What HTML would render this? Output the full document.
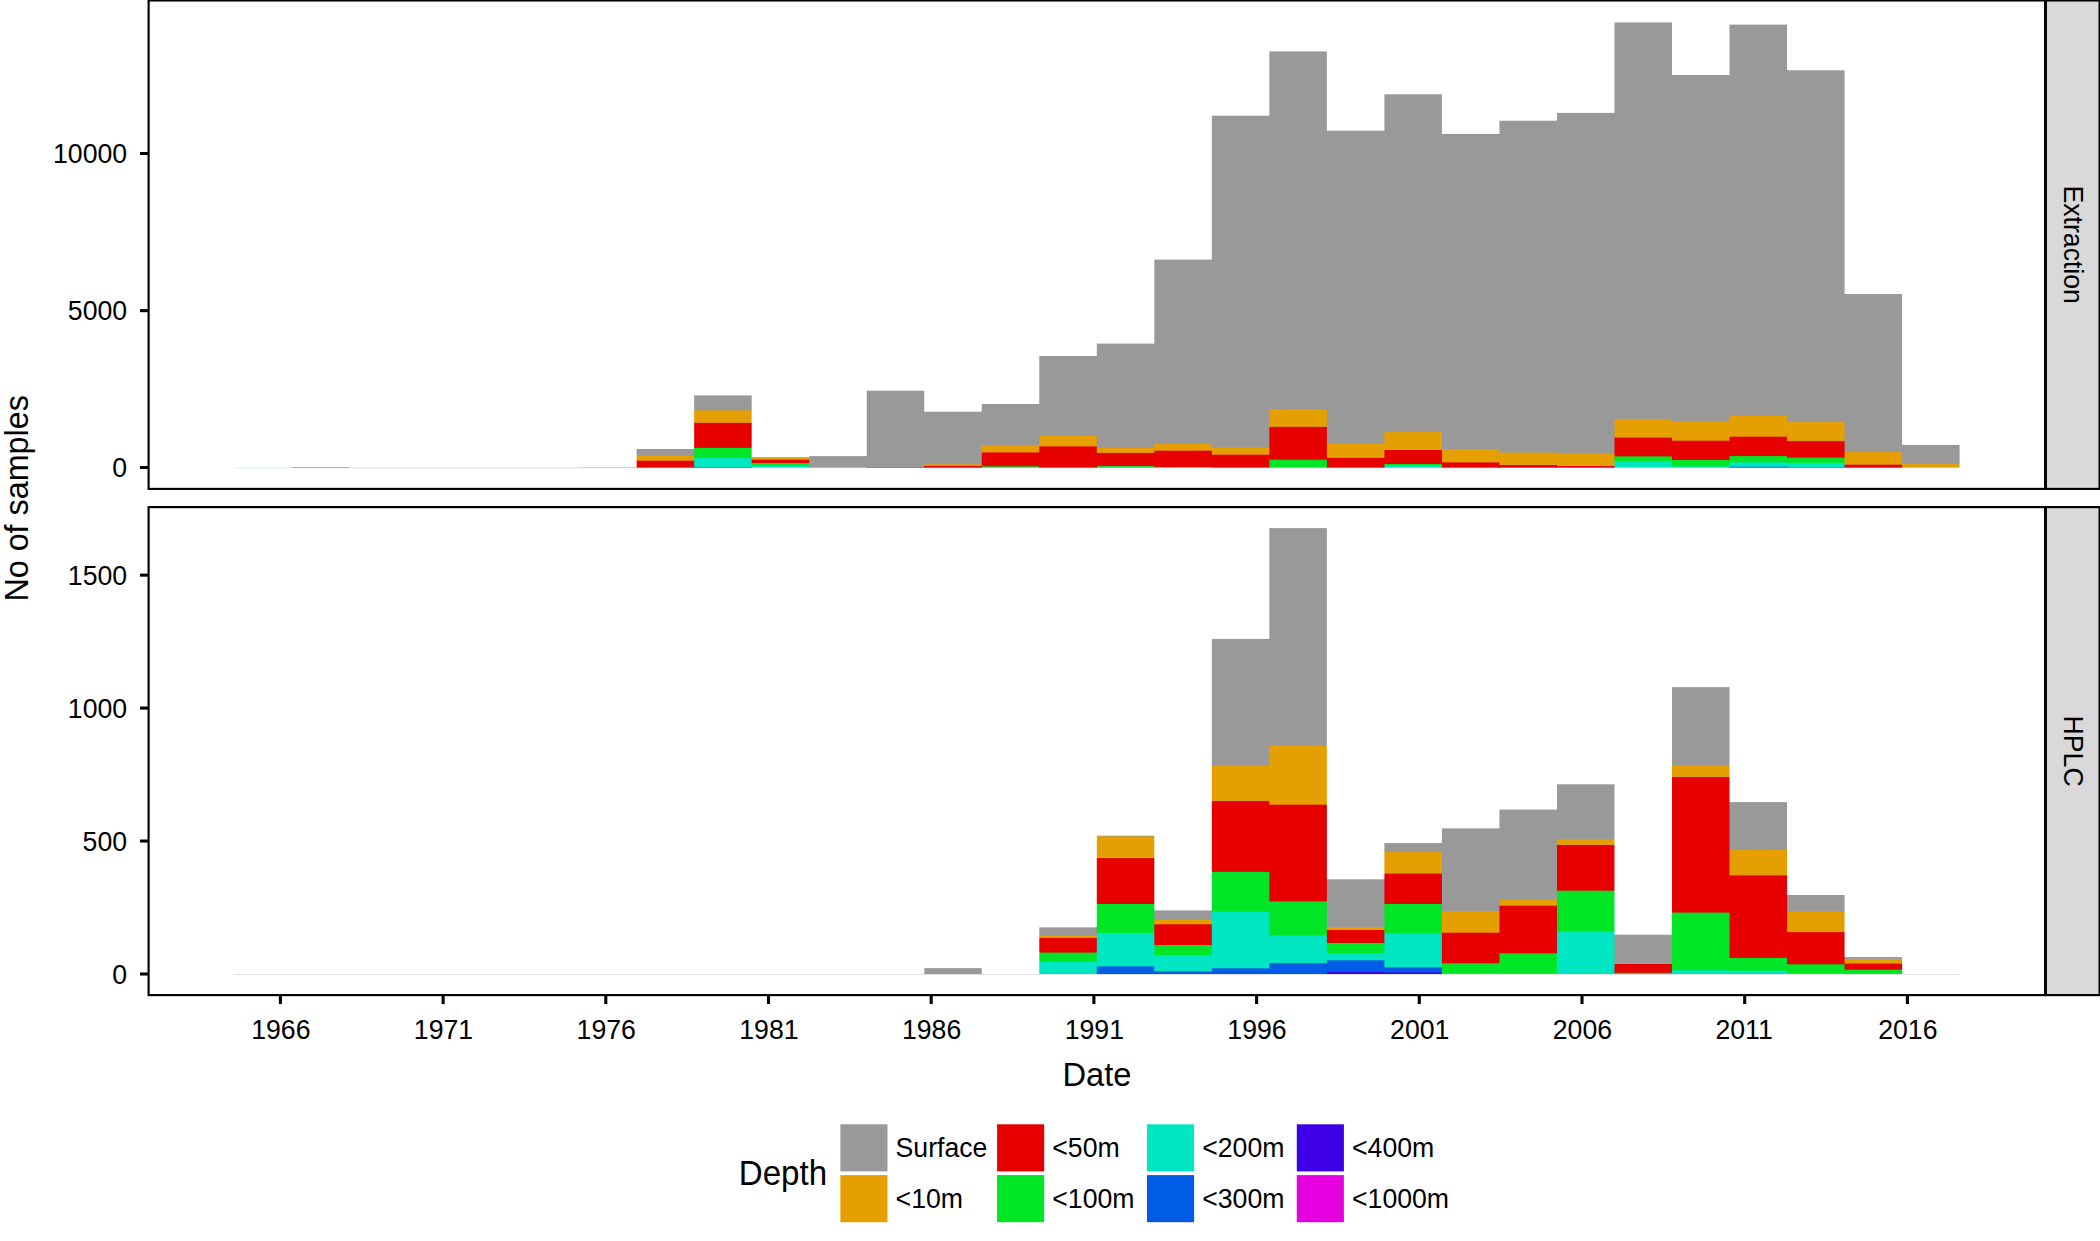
<!DOCTYPE html>
<html lang="en"><head><meta charset="utf-8"><title>No of samples by date and depth</title>
<style>html,body{margin:0;padding:0;background:#fff}body{width:2100px;height:1241px;overflow:hidden}svg{display:block}text{font-family:"Liberation Sans",Arial,Helvetica,sans-serif;fill:#000}.a{font-size:26.67px}.t{font-size:33.33px}</style></head><body>
<svg width="2100" height="1241" viewBox="0 0 2100 1241">
<rect x="0" y="0" width="2100" height="1241" fill="#fff"/>
<rect x="234.00" y="467.65" width="57.52" height="0.60" fill="#7fd8c8" opacity="0.50"/>
<rect x="291.52" y="467.20" width="57.52" height="0.80" fill="#6b8e23" opacity="0.75"/>
<rect x="349.04" y="467.65" width="230.08" height="0.60" fill="#999999" opacity="0.55"/>
<rect x="579.12" y="467.50" width="57.52" height="0.60" fill="#999999" opacity="0.80"/>
<g>
<linearGradient id="g1" gradientUnits="userSpaceOnUse" x1="0" y1="449.00" x2="0" y2="467.70"><stop offset="0.00000" stop-color="#999999"/><stop offset="0.33155" stop-color="#999999"/><stop offset="0.38503" stop-color="#E69F00"/><stop offset="0.59893" stop-color="#E69F00"/><stop offset="0.65241" stop-color="#E60000"/><stop offset="1.00000" stop-color="#E60000"/></linearGradient>
<rect x="636.64" y="449.00" width="57.52" height="18.70" fill="url(#g1)"/>
<rect x="694" y="449.00" width="1" height="18.70" fill="url(#g1)"/>
<linearGradient id="g2" gradientUnits="userSpaceOnUse" x1="0" y1="395.40" x2="0" y2="467.70"><stop offset="0.00000" stop-color="#999999"/><stop offset="0.20055" stop-color="#999999"/><stop offset="0.21438" stop-color="#E69F00"/><stop offset="0.37344" stop-color="#E69F00"/><stop offset="0.38728" stop-color="#E60000"/><stop offset="0.71923" stop-color="#E60000"/><stop offset="0.73306" stop-color="#00E626"/><stop offset="0.85754" stop-color="#00E626"/><stop offset="0.87137" stop-color="#00E6C3"/><stop offset="0.98340" stop-color="#00E6C3"/><stop offset="0.99723" stop-color="#005CE6"/><stop offset="1.00000" stop-color="#005CE6"/></linearGradient>
<rect x="694.16" y="395.40" width="57.52" height="72.30" fill="url(#g2)"/>
<rect x="751" y="457.20" width="1" height="10.50" fill="url(#g2)"/>
<linearGradient id="g3" gradientUnits="userSpaceOnUse" x1="0" y1="457.20" x2="0" y2="467.70"><stop offset="0.00000" stop-color="#999999"/><stop offset="0.02857" stop-color="#999999"/><stop offset="0.12381" stop-color="#E69F00"/><stop offset="0.19048" stop-color="#E69F00"/><stop offset="0.28571" stop-color="#E60000"/><stop offset="0.50476" stop-color="#E60000"/><stop offset="0.60000" stop-color="#00E626"/><stop offset="0.76190" stop-color="#00E626"/><stop offset="0.85714" stop-color="#00E6C3"/><stop offset="1.00000" stop-color="#00E6C3"/></linearGradient>
<rect x="751.68" y="457.20" width="57.52" height="10.50" fill="url(#g3)"/>
<rect x="809" y="457.20" width="1" height="10.50" fill="url(#g3)"/>
<rect x="809.20" y="456.10" width="57.52" height="11.60" fill="#999999"/>
<rect x="866" y="456.10" width="1" height="11.60" fill="#999999"/>
<linearGradient id="g5" gradientUnits="userSpaceOnUse" x1="0" y1="390.70" x2="0" y2="467.70"><stop offset="0.00000" stop-color="#999999"/><stop offset="0.98701" stop-color="#999999"/><stop offset="1.00000" stop-color="#E60000"/><stop offset="1.00000" stop-color="#E60000"/></linearGradient>
<rect x="866.72" y="390.70" width="57.52" height="77.00" fill="url(#g5)"/>
<rect x="924" y="411.70" width="1" height="56.00" fill="url(#g5)"/>
<linearGradient id="g6" gradientUnits="userSpaceOnUse" x1="0" y1="411.70" x2="0" y2="467.70"><stop offset="0.00000" stop-color="#999999"/><stop offset="0.93036" stop-color="#999999"/><stop offset="0.94821" stop-color="#E69F00"/><stop offset="0.95893" stop-color="#E69F00"/><stop offset="0.97679" stop-color="#E60000"/><stop offset="1.00000" stop-color="#E60000"/></linearGradient>
<rect x="924.24" y="411.70" width="57.52" height="56.00" fill="url(#g6)"/>
<rect x="981" y="411.70" width="1" height="56.00" fill="url(#g6)"/>
<linearGradient id="g7" gradientUnits="userSpaceOnUse" x1="0" y1="404.00" x2="0" y2="467.70"><stop offset="0.00000" stop-color="#999999"/><stop offset="0.64207" stop-color="#999999"/><stop offset="0.65777" stop-color="#E69F00"/><stop offset="0.75196" stop-color="#E69F00"/><stop offset="0.76766" stop-color="#E60000"/><stop offset="0.97017" stop-color="#E60000"/><stop offset="0.98587" stop-color="#00E626"/><stop offset="1.00000" stop-color="#00E626"/></linearGradient>
<rect x="981.76" y="404.00" width="57.52" height="63.70" fill="url(#g7)"/>
<rect x="1039" y="404.00" width="1" height="63.70" fill="url(#g7)"/>
<linearGradient id="g8" gradientUnits="userSpaceOnUse" x1="0" y1="356.00" x2="0" y2="467.70"><stop offset="0.00000" stop-color="#999999"/><stop offset="0.70904" stop-color="#999999"/><stop offset="0.71799" stop-color="#E69F00"/><stop offset="0.80483" stop-color="#E69F00"/><stop offset="0.81379" stop-color="#E60000"/><stop offset="1.00000" stop-color="#E60000"/></linearGradient>
<rect x="1039.28" y="356.00" width="57.52" height="111.70" fill="url(#g8)"/>
<rect x="1096" y="356.00" width="1" height="111.70" fill="url(#g8)"/>
<linearGradient id="g9" gradientUnits="userSpaceOnUse" x1="0" y1="343.60" x2="0" y2="467.70"><stop offset="0.00000" stop-color="#999999"/><stop offset="0.83642" stop-color="#999999"/><stop offset="0.84448" stop-color="#E69F00"/><stop offset="0.87671" stop-color="#E69F00"/><stop offset="0.88477" stop-color="#E60000"/><stop offset="0.98308" stop-color="#E60000"/><stop offset="0.99114" stop-color="#00E626"/><stop offset="1.00000" stop-color="#00E626"/></linearGradient>
<rect x="1096.80" y="343.60" width="57.52" height="124.10" fill="url(#g9)"/>
<rect x="1154" y="343.60" width="1" height="124.10" fill="url(#g9)"/>
<linearGradient id="g10" gradientUnits="userSpaceOnUse" x1="0" y1="259.60" x2="0" y2="467.70"><stop offset="0.00000" stop-color="#999999"/><stop offset="0.88371" stop-color="#999999"/><stop offset="0.88852" stop-color="#E69F00"/><stop offset="0.91591" stop-color="#E69F00"/><stop offset="0.92071" stop-color="#E60000"/><stop offset="0.99423" stop-color="#E60000"/><stop offset="0.99904" stop-color="#00E626"/><stop offset="1.00000" stop-color="#00E626"/></linearGradient>
<rect x="1154.32" y="259.60" width="57.52" height="208.10" fill="url(#g10)"/>
<rect x="1211" y="259.60" width="1" height="208.10" fill="url(#g10)"/>
<linearGradient id="g11" gradientUnits="userSpaceOnUse" x1="0" y1="115.70" x2="0" y2="467.70"><stop offset="0.00000" stop-color="#999999"/><stop offset="0.94091" stop-color="#999999"/><stop offset="0.94375" stop-color="#E69F00"/><stop offset="0.96165" stop-color="#E69F00"/><stop offset="0.96449" stop-color="#E60000"/><stop offset="1.00000" stop-color="#E60000"/></linearGradient>
<rect x="1211.84" y="115.70" width="57.52" height="352.00" fill="url(#g11)"/>
<rect x="1269" y="115.70" width="1" height="352.00" fill="url(#g11)"/>
<linearGradient id="g12" gradientUnits="userSpaceOnUse" x1="0" y1="51.40" x2="0" y2="467.70"><stop offset="0.00000" stop-color="#999999"/><stop offset="0.85779" stop-color="#999999"/><stop offset="0.86020" stop-color="#E69F00"/><stop offset="0.90079" stop-color="#E69F00"/><stop offset="0.90319" stop-color="#E60000"/><stop offset="0.97958" stop-color="#E60000"/><stop offset="0.98198" stop-color="#00E626"/><stop offset="1.00000" stop-color="#00E626"/></linearGradient>
<rect x="1269.36" y="51.40" width="57.52" height="416.30" fill="url(#g12)"/>
<rect x="1326" y="130.70" width="1" height="337.00" fill="url(#g12)"/>
<linearGradient id="g13" gradientUnits="userSpaceOnUse" x1="0" y1="130.70" x2="0" y2="467.70"><stop offset="0.00000" stop-color="#999999"/><stop offset="0.92700" stop-color="#999999"/><stop offset="0.92997" stop-color="#E69F00"/><stop offset="0.96944" stop-color="#E69F00"/><stop offset="0.97240" stop-color="#E60000"/><stop offset="1.00000" stop-color="#E60000"/></linearGradient>
<rect x="1326.88" y="130.70" width="57.52" height="337.00" fill="url(#g13)"/>
<rect x="1384" y="130.70" width="1" height="337.00" fill="url(#g13)"/>
<linearGradient id="g14" gradientUnits="userSpaceOnUse" x1="0" y1="94.30" x2="0" y2="467.70"><stop offset="0.00000" stop-color="#999999"/><stop offset="0.90332" stop-color="#999999"/><stop offset="0.90600" stop-color="#E69F00"/><stop offset="0.95126" stop-color="#E69F00"/><stop offset="0.95394" stop-color="#E60000"/><stop offset="0.98875" stop-color="#E60000"/><stop offset="0.99143" stop-color="#00E626"/><stop offset="0.99250" stop-color="#00E626"/><stop offset="0.99518" stop-color="#00E6C3"/><stop offset="1.00000" stop-color="#00E6C3"/></linearGradient>
<rect x="1384.40" y="94.30" width="57.52" height="373.40" fill="url(#g14)"/>
<rect x="1441" y="133.90" width="1" height="333.80" fill="url(#g14)"/>
<linearGradient id="g15" gradientUnits="userSpaceOnUse" x1="0" y1="133.90" x2="0" y2="467.70"><stop offset="0.00000" stop-color="#999999"/><stop offset="0.94248" stop-color="#999999"/><stop offset="0.94548" stop-color="#E69F00"/><stop offset="0.98262" stop-color="#E69F00"/><stop offset="0.98562" stop-color="#E60000"/><stop offset="1.00000" stop-color="#E60000"/></linearGradient>
<rect x="1441.92" y="133.90" width="57.52" height="333.80" fill="url(#g15)"/>
<rect x="1499" y="133.90" width="1" height="333.80" fill="url(#g15)"/>
<linearGradient id="g16" gradientUnits="userSpaceOnUse" x1="0" y1="120.70" x2="0" y2="467.70"><stop offset="0.00000" stop-color="#999999"/><stop offset="0.95504" stop-color="#999999"/><stop offset="0.95793" stop-color="#E69F00"/><stop offset="0.99078" stop-color="#E69F00"/><stop offset="0.99366" stop-color="#E60000"/><stop offset="1.00000" stop-color="#E60000"/></linearGradient>
<rect x="1499.44" y="120.70" width="57.52" height="347.00" fill="url(#g16)"/>
<rect x="1556" y="120.70" width="1" height="347.00" fill="url(#g16)"/>
<linearGradient id="g17" gradientUnits="userSpaceOnUse" x1="0" y1="112.90" x2="0" y2="467.70"><stop offset="0.00000" stop-color="#999999"/><stop offset="0.95970" stop-color="#999999"/><stop offset="0.96251" stop-color="#E69F00"/><stop offset="0.99380" stop-color="#E69F00"/><stop offset="0.99662" stop-color="#E60000"/><stop offset="1.00000" stop-color="#E60000"/></linearGradient>
<rect x="1556.96" y="112.90" width="57.52" height="354.80" fill="url(#g17)"/>
<rect x="1614" y="112.90" width="1" height="354.80" fill="url(#g17)"/>
<linearGradient id="g18" gradientUnits="userSpaceOnUse" x1="0" y1="22.40" x2="0" y2="467.70"><stop offset="0.00000" stop-color="#999999"/><stop offset="0.88929" stop-color="#999999"/><stop offset="0.89153" stop-color="#E69F00"/><stop offset="0.93128" stop-color="#E69F00"/><stop offset="0.93353" stop-color="#E60000"/><stop offset="0.97350" stop-color="#E60000"/><stop offset="0.97575" stop-color="#00E626"/><stop offset="0.98473" stop-color="#00E626"/><stop offset="0.98698" stop-color="#00E6C3"/><stop offset="1.00000" stop-color="#00E6C3"/></linearGradient>
<rect x="1614.48" y="22.40" width="57.52" height="445.30" fill="url(#g18)"/>
<linearGradient id="g19" gradientUnits="userSpaceOnUse" x1="0" y1="75.00" x2="0" y2="467.70"><stop offset="0.00000" stop-color="#999999"/><stop offset="0.88083" stop-color="#999999"/><stop offset="0.88337" stop-color="#E69F00"/><stop offset="0.92997" stop-color="#E69F00"/><stop offset="0.93252" stop-color="#E60000"/><stop offset="0.97912" stop-color="#E60000"/><stop offset="0.98167" stop-color="#00E626"/><stop offset="0.99542" stop-color="#00E626"/><stop offset="0.99796" stop-color="#00E6C3"/><stop offset="1.00000" stop-color="#00E6C3"/></linearGradient>
<rect x="1672.00" y="75.00" width="57.52" height="392.70" fill="url(#g19)"/>
<rect x="1729" y="75.00" width="1" height="392.70" fill="url(#g19)"/>
<linearGradient id="g20" gradientUnits="userSpaceOnUse" x1="0" y1="24.60" x2="0" y2="467.70"><stop offset="0.00000" stop-color="#999999"/><stop offset="0.88152" stop-color="#999999"/><stop offset="0.88377" stop-color="#E69F00"/><stop offset="0.92891" stop-color="#E69F00"/><stop offset="0.93117" stop-color="#E60000"/><stop offset="0.97269" stop-color="#E60000"/><stop offset="0.97495" stop-color="#00E626"/><stop offset="0.98691" stop-color="#00E626"/><stop offset="0.98917" stop-color="#00E6C3"/><stop offset="0.99661" stop-color="#00E6C3"/><stop offset="0.99887" stop-color="#005CE6"/><stop offset="1.00000" stop-color="#005CE6"/></linearGradient>
<rect x="1729.52" y="24.60" width="57.52" height="443.10" fill="url(#g20)"/>
<rect x="1787" y="70.30" width="1" height="397.40" fill="url(#g20)"/>
<linearGradient id="g21" gradientUnits="userSpaceOnUse" x1="0" y1="70.30" x2="0" y2="467.70"><stop offset="0.00000" stop-color="#999999"/><stop offset="0.88400" stop-color="#999999"/><stop offset="0.88651" stop-color="#E69F00"/><stop offset="0.93181" stop-color="#E69F00"/><stop offset="0.93432" stop-color="#E60000"/><stop offset="0.97333" stop-color="#E60000"/><stop offset="0.97584" stop-color="#00E626"/><stop offset="0.98666" stop-color="#00E626"/><stop offset="0.98918" stop-color="#00E6C3"/><stop offset="0.99748" stop-color="#00E6C3"/><stop offset="1.00000" stop-color="#005CE6"/><stop offset="1.00000" stop-color="#005CE6"/></linearGradient>
<rect x="1787.04" y="70.30" width="57.52" height="397.40" fill="url(#g21)"/>
<rect x="1844" y="294.00" width="1" height="173.70" fill="url(#g21)"/>
<linearGradient id="g22" gradientUnits="userSpaceOnUse" x1="0" y1="294.00" x2="0" y2="467.70"><stop offset="0.00000" stop-color="#999999"/><stop offset="0.90731" stop-color="#999999"/><stop offset="0.91307" stop-color="#E69F00"/><stop offset="0.97985" stop-color="#E69F00"/><stop offset="0.98561" stop-color="#E60000"/><stop offset="1.00000" stop-color="#E60000"/></linearGradient>
<rect x="1844.56" y="294.00" width="57.52" height="173.70" fill="url(#g22)"/>
<rect x="1902" y="444.90" width="1" height="22.80" fill="url(#g22)"/>
<linearGradient id="g23" gradientUnits="userSpaceOnUse" x1="0" y1="444.90" x2="0" y2="467.70"><stop offset="0.00000" stop-color="#999999"/><stop offset="0.82018" stop-color="#999999"/><stop offset="0.86404" stop-color="#E69F00"/><stop offset="1.00000" stop-color="#E69F00"/></linearGradient>
<rect x="1902.08" y="444.90" width="57.52" height="22.80" fill="url(#g23)"/>
</g>
<rect x="234.00" y="973.95" width="1725.60" height="0.60" fill="#999999" opacity="0.50"/>
<g>
<rect x="924.24" y="968.10" width="57.52" height="5.90" fill="#999999"/>
<linearGradient id="g25" gradientUnits="userSpaceOnUse" x1="0" y1="927.40" x2="0" y2="974.00"><stop offset="0.00000" stop-color="#999999"/><stop offset="0.17382" stop-color="#999999"/><stop offset="0.19528" stop-color="#E69F00"/><stop offset="0.21459" stop-color="#E69F00"/><stop offset="0.23605" stop-color="#E60000"/><stop offset="0.53004" stop-color="#E60000"/><stop offset="0.55150" stop-color="#00E626"/><stop offset="0.72532" stop-color="#00E626"/><stop offset="0.74678" stop-color="#00E6C3"/><stop offset="1.00000" stop-color="#00E6C3"/></linearGradient>
<rect x="1039.28" y="927.40" width="57.52" height="46.60" fill="url(#g25)"/>
<rect x="1096" y="927.40" width="1" height="46.60" fill="url(#g25)"/>
<linearGradient id="g26" gradientUnits="userSpaceOnUse" x1="0" y1="835.70" x2="0" y2="974.00"><stop offset="0.00000" stop-color="#999999"/><stop offset="0.00145" stop-color="#999999"/><stop offset="0.00868" stop-color="#E69F00"/><stop offset="0.15835" stop-color="#E69F00"/><stop offset="0.16558" stop-color="#E60000"/><stop offset="0.49024" stop-color="#E60000"/><stop offset="0.49747" stop-color="#00E626"/><stop offset="0.69920" stop-color="#00E626"/><stop offset="0.70644" stop-color="#00E6C3"/><stop offset="0.94143" stop-color="#00E6C3"/><stop offset="0.94866" stop-color="#005CE6"/><stop offset="1.00000" stop-color="#005CE6"/></linearGradient>
<rect x="1096.80" y="835.70" width="57.52" height="138.30" fill="url(#g26)"/>
<rect x="1154" y="910.40" width="1" height="63.60" fill="url(#g26)"/>
<linearGradient id="g27" gradientUnits="userSpaceOnUse" x1="0" y1="910.40" x2="0" y2="974.00"><stop offset="0.00000" stop-color="#999999"/><stop offset="0.14308" stop-color="#999999"/><stop offset="0.15881" stop-color="#E69F00"/><stop offset="0.21069" stop-color="#E69F00"/><stop offset="0.22642" stop-color="#E60000"/><stop offset="0.53616" stop-color="#E60000"/><stop offset="0.55189" stop-color="#00E626"/><stop offset="0.69340" stop-color="#00E626"/><stop offset="0.70912" stop-color="#00E6C3"/><stop offset="0.95126" stop-color="#00E6C3"/><stop offset="0.96698" stop-color="#005CE6"/><stop offset="1.00000" stop-color="#005CE6"/></linearGradient>
<rect x="1154.32" y="910.40" width="57.52" height="63.60" fill="url(#g27)"/>
<rect x="1211" y="910.40" width="1" height="63.60" fill="url(#g27)"/>
<linearGradient id="g28" gradientUnits="userSpaceOnUse" x1="0" y1="638.90" x2="0" y2="974.00"><stop offset="0.00000" stop-color="#999999"/><stop offset="0.37690" stop-color="#999999"/><stop offset="0.37989" stop-color="#E69F00"/><stop offset="0.48224" stop-color="#E69F00"/><stop offset="0.48523" stop-color="#E60000"/><stop offset="0.69382" stop-color="#E60000"/><stop offset="0.69681" stop-color="#00E626"/><stop offset="0.81259" stop-color="#00E626"/><stop offset="0.81558" stop-color="#00E6C3"/><stop offset="0.98150" stop-color="#00E6C3"/><stop offset="0.98448" stop-color="#005CE6"/><stop offset="1.00000" stop-color="#005CE6"/></linearGradient>
<rect x="1211.84" y="638.90" width="57.52" height="335.10" fill="url(#g28)"/>
<rect x="1269" y="638.90" width="1" height="335.10" fill="url(#g28)"/>
<linearGradient id="g29" gradientUnits="userSpaceOnUse" x1="0" y1="528.10" x2="0" y2="974.00"><stop offset="0.00000" stop-color="#999999"/><stop offset="0.48688" stop-color="#999999"/><stop offset="0.48912" stop-color="#E69F00"/><stop offset="0.61920" stop-color="#E69F00"/><stop offset="0.62144" stop-color="#E60000"/><stop offset="0.83606" stop-color="#E60000"/><stop offset="0.83830" stop-color="#00E626"/><stop offset="0.91231" stop-color="#00E626"/><stop offset="0.91455" stop-color="#00E6C3"/><stop offset="0.97443" stop-color="#00E6C3"/><stop offset="0.97668" stop-color="#005CE6"/><stop offset="1.00000" stop-color="#005CE6"/></linearGradient>
<rect x="1269.36" y="528.10" width="57.52" height="445.90" fill="url(#g29)"/>
<rect x="1326" y="879.30" width="1" height="94.70" fill="url(#g29)"/>
<linearGradient id="g30" gradientUnits="userSpaceOnUse" x1="0" y1="879.30" x2="0" y2="974.00"><stop offset="0.00000" stop-color="#999999"/><stop offset="0.49947" stop-color="#999999"/><stop offset="0.51003" stop-color="#E69F00"/><stop offset="0.53010" stop-color="#E69F00"/><stop offset="0.54065" stop-color="#E60000"/><stop offset="0.66631" stop-color="#E60000"/><stop offset="0.67687" stop-color="#00E626"/><stop offset="0.77402" stop-color="#00E626"/><stop offset="0.78458" stop-color="#00E6C3"/><stop offset="0.85005" stop-color="#00E6C3"/><stop offset="0.86061" stop-color="#005CE6"/><stop offset="0.97254" stop-color="#005CE6"/><stop offset="0.98310" stop-color="#3D00E6"/><stop offset="1.00000" stop-color="#3D00E6"/></linearGradient>
<rect x="1326.88" y="879.30" width="57.52" height="94.70" fill="url(#g30)"/>
<rect x="1384" y="879.30" width="1" height="94.70" fill="url(#g30)"/>
<linearGradient id="g31" gradientUnits="userSpaceOnUse" x1="0" y1="843.10" x2="0" y2="974.00"><stop offset="0.00000" stop-color="#999999"/><stop offset="0.06494" stop-color="#999999"/><stop offset="0.07257" stop-color="#E69F00"/><stop offset="0.22918" stop-color="#E69F00"/><stop offset="0.23682" stop-color="#E60000"/><stop offset="0.46142" stop-color="#E60000"/><stop offset="0.46906" stop-color="#00E626"/><stop offset="0.68755" stop-color="#00E626"/><stop offset="0.69519" stop-color="#00E6C3"/><stop offset="0.94576" stop-color="#00E6C3"/><stop offset="0.95340" stop-color="#005CE6"/><stop offset="0.98396" stop-color="#005CE6"/><stop offset="0.99160" stop-color="#3D00E6"/><stop offset="1.00000" stop-color="#3D00E6"/></linearGradient>
<rect x="1384.40" y="843.10" width="57.52" height="130.90" fill="url(#g31)"/>
<rect x="1441" y="843.10" width="1" height="130.90" fill="url(#g31)"/>
<linearGradient id="g32" gradientUnits="userSpaceOnUse" x1="0" y1="828.40" x2="0" y2="974.00"><stop offset="0.00000" stop-color="#999999"/><stop offset="0.56525" stop-color="#999999"/><stop offset="0.57212" stop-color="#E69F00"/><stop offset="0.71291" stop-color="#E69F00"/><stop offset="0.71978" stop-color="#E60000"/><stop offset="0.92308" stop-color="#E60000"/><stop offset="0.92995" stop-color="#00E626"/><stop offset="0.98970" stop-color="#00E626"/><stop offset="0.99657" stop-color="#00E6C3"/><stop offset="1.00000" stop-color="#00E6C3"/></linearGradient>
<rect x="1441.92" y="828.40" width="57.52" height="145.60" fill="url(#g32)"/>
<rect x="1499" y="828.40" width="1" height="145.60" fill="url(#g32)"/>
<linearGradient id="g33" gradientUnits="userSpaceOnUse" x1="0" y1="809.60" x2="0" y2="974.00"><stop offset="0.00000" stop-color="#999999"/><stop offset="0.54684" stop-color="#999999"/><stop offset="0.55292" stop-color="#E69F00"/><stop offset="0.58151" stop-color="#E69F00"/><stop offset="0.58759" stop-color="#E60000"/><stop offset="0.87105" stop-color="#E60000"/><stop offset="0.87713" stop-color="#00E626"/><stop offset="0.99331" stop-color="#00E626"/><stop offset="0.99939" stop-color="#00E6C3"/><stop offset="1.00000" stop-color="#00E6C3"/></linearGradient>
<rect x="1499.44" y="809.60" width="57.52" height="164.40" fill="url(#g33)"/>
<rect x="1556" y="809.60" width="1" height="164.40" fill="url(#g33)"/>
<linearGradient id="g34" gradientUnits="userSpaceOnUse" x1="0" y1="784.30" x2="0" y2="974.00"><stop offset="0.00000" stop-color="#999999"/><stop offset="0.28730" stop-color="#999999"/><stop offset="0.29257" stop-color="#E69F00"/><stop offset="0.31734" stop-color="#E69F00"/><stop offset="0.32261" stop-color="#E60000"/><stop offset="0.55825" stop-color="#E60000"/><stop offset="0.56352" stop-color="#00E626"/><stop offset="0.77438" stop-color="#00E626"/><stop offset="0.77965" stop-color="#00E6C3"/><stop offset="1.00000" stop-color="#00E6C3"/></linearGradient>
<rect x="1556.96" y="784.30" width="57.52" height="189.70" fill="url(#g34)"/>
<rect x="1614" y="934.70" width="1" height="39.30" fill="url(#g34)"/>
<linearGradient id="g35" gradientUnits="userSpaceOnUse" x1="0" y1="934.70" x2="0" y2="974.00"><stop offset="0.00000" stop-color="#999999"/><stop offset="0.71756" stop-color="#999999"/><stop offset="0.74300" stop-color="#E69F00"/><stop offset="0.74300" stop-color="#E69F00"/><stop offset="0.75573" stop-color="#E60000"/><stop offset="0.95674" stop-color="#E60000"/><stop offset="0.98219" stop-color="#00E626"/><stop offset="1.00000" stop-color="#00E626"/></linearGradient>
<rect x="1614.48" y="934.70" width="57.52" height="39.30" fill="url(#g35)"/>
<linearGradient id="g36" gradientUnits="userSpaceOnUse" x1="0" y1="687.10" x2="0" y2="974.00"><stop offset="0.00000" stop-color="#999999"/><stop offset="0.27257" stop-color="#999999"/><stop offset="0.27605" stop-color="#E69F00"/><stop offset="0.31161" stop-color="#E69F00"/><stop offset="0.31509" stop-color="#E60000"/><stop offset="0.78425" stop-color="#E60000"/><stop offset="0.78773" stop-color="#00E626"/><stop offset="0.98536" stop-color="#00E626"/><stop offset="0.98885" stop-color="#00E6C3"/><stop offset="1.00000" stop-color="#00E6C3"/></linearGradient>
<rect x="1672.00" y="687.10" width="57.52" height="286.90" fill="url(#g36)"/>
<rect x="1729" y="802.10" width="1" height="171.90" fill="url(#g36)"/>
<linearGradient id="g37" gradientUnits="userSpaceOnUse" x1="0" y1="802.10" x2="0" y2="974.00"><stop offset="0.00000" stop-color="#999999"/><stop offset="0.27574" stop-color="#999999"/><stop offset="0.28156" stop-color="#E69F00"/><stop offset="0.42350" stop-color="#E69F00"/><stop offset="0.42932" stop-color="#E60000"/><stop offset="0.90343" stop-color="#E60000"/><stop offset="0.90925" stop-color="#00E626"/><stop offset="0.97789" stop-color="#00E626"/><stop offset="0.98371" stop-color="#00E6C3"/><stop offset="1.00000" stop-color="#00E6C3"/></linearGradient>
<rect x="1729.52" y="802.10" width="57.52" height="171.90" fill="url(#g37)"/>
<rect x="1787" y="895.00" width="1" height="79.00" fill="url(#g37)"/>
<linearGradient id="g38" gradientUnits="userSpaceOnUse" x1="0" y1="895.00" x2="0" y2="974.00"><stop offset="0.00000" stop-color="#999999"/><stop offset="0.20127" stop-color="#999999"/><stop offset="0.21392" stop-color="#E69F00"/><stop offset="0.46329" stop-color="#E69F00"/><stop offset="0.47595" stop-color="#E60000"/><stop offset="0.87089" stop-color="#E60000"/><stop offset="0.88354" stop-color="#00E626"/><stop offset="0.98354" stop-color="#00E626"/><stop offset="0.99620" stop-color="#00E6C3"/><stop offset="1.00000" stop-color="#00E6C3"/></linearGradient>
<rect x="1787.04" y="895.00" width="57.52" height="79.00" fill="url(#g38)"/>
<rect x="1844" y="957.10" width="1" height="16.90" fill="url(#g38)"/>
<linearGradient id="g39" gradientUnits="userSpaceOnUse" x1="0" y1="957.10" x2="0" y2="974.00"><stop offset="0.00000" stop-color="#999999"/><stop offset="0.08284" stop-color="#999999"/><stop offset="0.14201" stop-color="#E69F00"/><stop offset="0.35503" stop-color="#E69F00"/><stop offset="0.41420" stop-color="#E60000"/><stop offset="0.71598" stop-color="#E60000"/><stop offset="0.77515" stop-color="#00E626"/><stop offset="1.00000" stop-color="#00E626"/></linearGradient>
<rect x="1844.56" y="957.10" width="57.52" height="16.90" fill="url(#g39)"/>
</g>
<rect x="2045.90" y="0.45" width="53.70" height="488.45" fill="#D9D9D9" stroke="#000" stroke-width="2.15"/>
<rect x="2045.90" y="507.10" width="53.70" height="488.00" fill="#D9D9D9" stroke="#000" stroke-width="2.15"/>
<rect x="148.60" y="0.45" width="1896.50" height="488.45" fill="none" stroke="#000" stroke-width="2.15"/>
<rect x="148.60" y="507.10" width="1896.50" height="488.00" fill="none" stroke="#000" stroke-width="2.15"/>
<text class="a" text-anchor="middle" transform="translate(2063.60,244.67) rotate(90) scale(1,1.04)">Extraction</text>
<text class="a" text-anchor="middle" transform="translate(2063.60,751.10) rotate(90) scale(1,1.04)">HPLC</text>
<line x1="140.00" y1="467.50" x2="148.60" y2="467.50" stroke="#000" stroke-width="3.05"/>
<text class="a" text-anchor="end" transform="translate(127.10,477.10) scale(1,1.04)">0</text>
<line x1="140.00" y1="310.65" x2="148.60" y2="310.65" stroke="#000" stroke-width="3.05"/>
<text class="a" text-anchor="end" transform="translate(127.10,320.25) scale(1,1.04)">5000</text>
<line x1="140.00" y1="153.50" x2="148.60" y2="153.50" stroke="#000" stroke-width="3.05"/>
<text class="a" text-anchor="end" transform="translate(127.10,163.10) scale(1,1.04)">10000</text>
<line x1="140.00" y1="974.00" x2="148.60" y2="974.00" stroke="#000" stroke-width="3.05"/>
<text class="a" text-anchor="end" transform="translate(127.10,983.60) scale(1,1.04)">0</text>
<line x1="140.00" y1="841.05" x2="148.60" y2="841.05" stroke="#000" stroke-width="3.05"/>
<text class="a" text-anchor="end" transform="translate(127.10,850.65) scale(1,1.04)">500</text>
<line x1="140.00" y1="708.10" x2="148.60" y2="708.10" stroke="#000" stroke-width="3.05"/>
<text class="a" text-anchor="end" transform="translate(127.10,717.70) scale(1,1.04)">1000</text>
<line x1="140.00" y1="575.15" x2="148.60" y2="575.15" stroke="#000" stroke-width="3.05"/>
<text class="a" text-anchor="end" transform="translate(127.10,584.75) scale(1,1.04)">1500</text>
<line x1="280.40" y1="995.10" x2="280.40" y2="1004.10" stroke="#000" stroke-width="3.10"/>
<text class="a" text-anchor="middle" transform="translate(280.80,1038.50) scale(1,1.04)">1966</text>
<line x1="443.10" y1="995.10" x2="443.10" y2="1004.10" stroke="#000" stroke-width="3.10"/>
<text class="a" text-anchor="middle" transform="translate(443.50,1038.50) scale(1,1.04)">1971</text>
<line x1="605.80" y1="995.10" x2="605.80" y2="1004.10" stroke="#000" stroke-width="3.10"/>
<text class="a" text-anchor="middle" transform="translate(606.20,1038.50) scale(1,1.04)">1976</text>
<line x1="768.50" y1="995.10" x2="768.50" y2="1004.10" stroke="#000" stroke-width="3.10"/>
<text class="a" text-anchor="middle" transform="translate(768.90,1038.50) scale(1,1.04)">1981</text>
<line x1="931.20" y1="995.10" x2="931.20" y2="1004.10" stroke="#000" stroke-width="3.10"/>
<text class="a" text-anchor="middle" transform="translate(931.60,1038.50) scale(1,1.04)">1986</text>
<line x1="1093.90" y1="995.10" x2="1093.90" y2="1004.10" stroke="#000" stroke-width="3.10"/>
<text class="a" text-anchor="middle" transform="translate(1094.30,1038.50) scale(1,1.04)">1991</text>
<line x1="1256.60" y1="995.10" x2="1256.60" y2="1004.10" stroke="#000" stroke-width="3.10"/>
<text class="a" text-anchor="middle" transform="translate(1257.00,1038.50) scale(1,1.04)">1996</text>
<line x1="1419.30" y1="995.10" x2="1419.30" y2="1004.10" stroke="#000" stroke-width="3.10"/>
<text class="a" text-anchor="middle" transform="translate(1419.70,1038.50) scale(1,1.04)">2001</text>
<line x1="1582.00" y1="995.10" x2="1582.00" y2="1004.10" stroke="#000" stroke-width="3.10"/>
<text class="a" text-anchor="middle" transform="translate(1582.40,1038.50) scale(1,1.04)">2006</text>
<line x1="1744.70" y1="995.10" x2="1744.70" y2="1004.10" stroke="#000" stroke-width="3.10"/>
<text class="a" text-anchor="middle" transform="translate(1744.10,1038.50) scale(1,1.04)">2011</text>
<line x1="1907.40" y1="995.10" x2="1907.40" y2="1004.10" stroke="#000" stroke-width="3.10"/>
<text class="a" text-anchor="middle" transform="translate(1907.80,1038.50) scale(1,1.04)">2016</text>
<text class="t" style="font-size:32.7px" text-anchor="middle" transform="translate(1097.00,1085.70) scale(1,1.04)">Date</text>
<text class="t" style="font-size:32.3px" text-anchor="middle" transform="translate(28.10,498.40) rotate(-90) scale(1,1.04)">No of samples</text>
<text class="t" style="font-size:33.1px" transform="translate(738.80,1185.20) scale(1,1.04)">Depth</text>
<rect x="840.40" y="1124.30" width="47.1" height="47.1" fill="#999999"/>
<text class="a" transform="translate(895.60,1157.40) scale(1,1.04)">Surface</text>
<rect x="840.40" y="1175.10" width="47.1" height="47.1" fill="#E69F00"/>
<text class="a" transform="translate(895.60,1208.20) scale(1,1.04)">&lt;10m</text>
<rect x="997.10" y="1124.30" width="47.1" height="47.1" fill="#E60000"/>
<text class="a" transform="translate(1052.30,1157.40) scale(1,1.04)">&lt;50m</text>
<rect x="997.10" y="1175.10" width="47.1" height="47.1" fill="#00E626"/>
<text class="a" transform="translate(1052.30,1208.20) scale(1,1.04)">&lt;100m</text>
<rect x="1147.00" y="1124.30" width="47.1" height="47.1" fill="#00E6C3"/>
<text class="a" transform="translate(1202.20,1157.40) scale(1,1.04)">&lt;200m</text>
<rect x="1147.00" y="1175.10" width="47.1" height="47.1" fill="#005CE6"/>
<text class="a" transform="translate(1202.20,1208.20) scale(1,1.04)">&lt;300m</text>
<rect x="1296.80" y="1124.30" width="47.1" height="47.1" fill="#3D00E6"/>
<text class="a" transform="translate(1352.00,1157.40) scale(1,1.04)">&lt;400m</text>
<rect x="1296.80" y="1175.10" width="47.1" height="47.1" fill="#E600E0"/>
<text class="a" transform="translate(1352.00,1208.20) scale(1,1.04)">&lt;1000m</text>
</svg></body></html>
